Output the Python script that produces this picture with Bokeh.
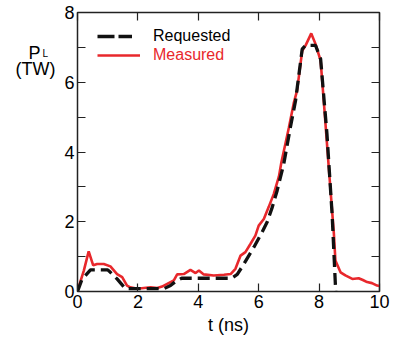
from bokeh.plotting import figure
from bokeh.models import Range1d, LinearAxis, FixedTicker, Label, Legend, LegendItem
from bokeh.embed import file_html
from bokeh.resources import INLINE

# Measured laser power (TW) vs time (ns)
t_meas = [0.0, 0.1, 0.21, 0.37, 0.52, 0.65, 0.87, 1.09, 1.31, 1.48, 1.64, 1.75, 1.98, 2.2,
          2.42, 2.64, 2.8, 2.97, 3.19, 3.3, 3.52, 3.74, 3.91, 4.02, 4.18, 4.51, 4.85, 5.07,
          5.23, 5.4, 5.56, 5.73, 5.89, 6.0, 6.17, 6.33, 6.5, 6.67, 6.75, 6.85, 7.0, 7.16,
          7.27, 7.38, 7.44, 7.55, 7.74, 7.88, 8.05, 8.16, 8.32, 8.49, 8.54, 8.71, 8.87,
          9.1, 9.31, 9.45, 9.59, 9.75, 9.92, 10.0]
p_meas = [0.0, 0.3, 0.6, 1.15, 0.75, 0.79, 0.79, 0.72, 0.5, 0.41, 0.17, 0.12, 0.08, 0.1,
          0.12, 0.1, 0.14, 0.22, 0.32, 0.49, 0.5, 0.62, 0.53, 0.6, 0.49, 0.46, 0.48, 0.5,
          0.65, 1.03, 1.13, 1.37, 1.6, 1.89, 2.08, 2.42, 2.8, 3.3, 3.7, 4.1, 4.7, 5.4,
          5.76, 6.5, 6.9, 7.05, 7.4, 7.1, 6.62, 5.4, 3.56, 1.65, 0.89, 0.55, 0.46,
          0.36, 0.38, 0.33, 0.27, 0.24, 0.17, 0.16]

# Requested pulse shape
t_req = [0.0, 0.15, 0.43, 0.82, 1.0, 1.09, 1.31, 1.59, 2.0, 2.5, 2.86, 3.08, 3.25, 3.45,
         4.0, 4.5, 5.1, 5.29, 5.51, 5.84, 6.11, 6.28, 6.45, 6.61, 6.83, 7.05, 7.22,
         7.44, 7.55, 7.88, 8.05, 8.26, 8.43, 8.55]
p_req = [0.0, 0.35, 0.62, 0.62, 0.62, 0.55, 0.36, 0.08, 0.08, 0.08, 0.08, 0.17, 0.29, 0.38,
         0.38, 0.38, 0.38, 0.49, 0.79, 1.27, 1.7, 1.99, 2.42, 2.89, 3.66, 4.71, 5.47,
         6.95, 7.06, 7.06, 6.67, 4.52, 2.23, 0.0]

x_ticks = [0, 2, 4, 6, 8, 10]
y_ticks = [0, 2, 4, 6, 8]
y_minor = [1, 3, 5, 7]

FONT = "Liberation Sans"
RED = "#e8282c"

p = figure(width=397, height=345, output_backend="svg", toolbar_location=None,
           x_range=Range1d(0, 10), y_range=Range1d(0, 8),
           min_border_left=77, min_border_right=18, min_border_top=12, min_border_bottom=54,
           x_axis_label="t (ns)")
p.xgrid.visible = False
p.ygrid.visible = False
p.outline_line_color = "#222222"
p.outline_line_width = 1.5
p.background_fill_color = "white"
p.border_fill_color = "white"


def style_axis(ax, major, minor, show_labels):
    ax.ticker = FixedTicker(ticks=major, minor_ticks=minor)
    ax.major_tick_in = 8
    ax.major_tick_out = 0
    ax.minor_tick_in = 8
    ax.minor_tick_out = 0
    ax.major_tick_line_color = "#222222"
    ax.minor_tick_line_color = "#222222"
    ax.major_tick_line_width = 1.2
    ax.minor_tick_line_width = 1.2
    ax.axis_line_color = None
    ax.major_label_text_font = FONT
    ax.major_label_text_font_size = "18px"
    ax.major_label_text_color = "black" if show_labels else None
    ax.major_label_standoff = 3


style_axis(p.xaxis[0], x_ticks, [], True)
style_axis(p.yaxis[0], y_ticks, y_minor, True)
p.xaxis[0].axis_label_text_font = FONT
p.xaxis[0].axis_label_text_font_size = "18px"
p.xaxis[0].axis_label_text_font_style = "normal"
p.xaxis[0].axis_label_text_color = "black"
p.xaxis[0].axis_label_standoff = 4

top = LinearAxis()
style_axis(top, x_ticks, [], False)
top.major_label_text_font_size = "0px"
p.add_layout(top, "above")
right = LinearAxis()
style_axis(right, y_ticks, y_minor, False)
right.major_label_text_font_size = "0px"
p.add_layout(right, "right")

r_meas = p.line(t_meas, p_meas, line_color=RED, line_width=2.6)
r_req = p.line(t_req, p_req, line_color="#111111", line_width=3.3, line_dash="12 6")
# legend key for the requested curve (kept outside the visible range)
r_req_key = p.line([-5, -4], [0, 0], line_color="#111111", line_width=3.3, line_dash="17 4")


def make_legend(label, renderer, color, vy, gw, standoff):
    lg = Legend(items=[LegendItem(label=label, renderers=[renderer])],
                location=(20, vy), padding=0, margin=0, spacing=0,
                glyph_width=gw, glyph_height=20,
                label_height=20, label_standoff=standoff,
                label_text_font=FONT, label_text_font_size="16px",
                label_text_color=color,
                border_line_color=None, background_fill_alpha=0)
    p.add_layout(lg)


make_legend("Requested", r_req_key, "black", 245, 35, 21)
make_legend("Measured", r_meas, RED, 226, 43, 13)

# Y axis title P_L (TW), placed left of the frame
for txt, x, y, size in [("P", 28, 52, "18px"), ("L", 42, 53, "10px"), ("(TW)", 15, 68, "18px")]:
    p.add_layout(Label(x=x, y=y, x_units="canvas", y_units="canvas", text=txt,
                       text_font=FONT, text_font_size=size,
                       text_baseline="alphabetic", text_color="black"), "left")

open("out.html", "w").write(file_html(p, INLINE))
